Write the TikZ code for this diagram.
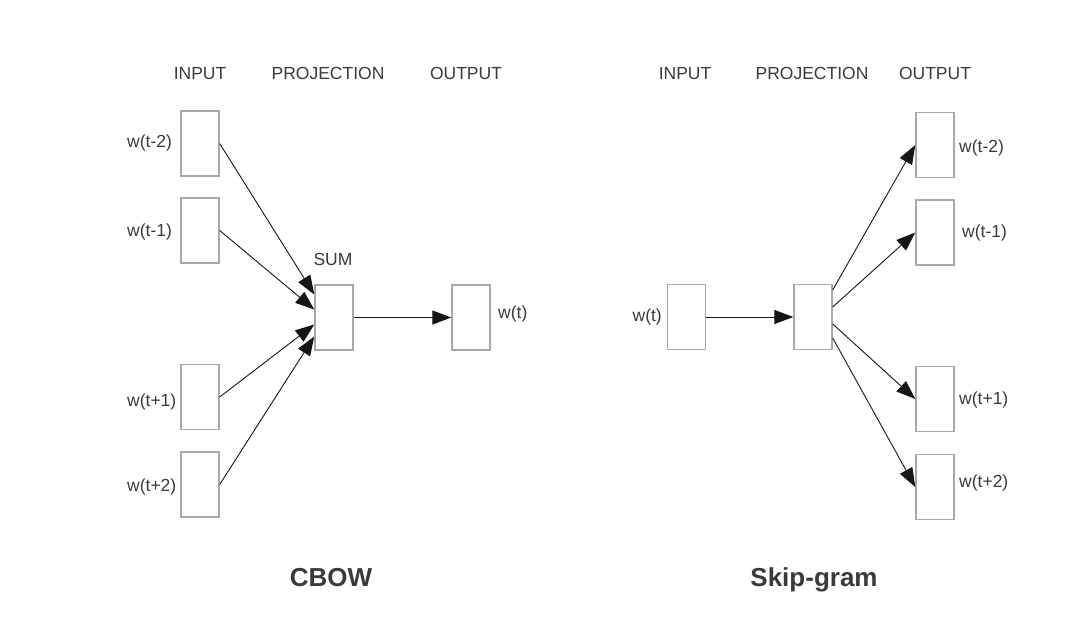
\documentclass[tikz,border=0pt]{standalone}
\usepackage{fontspec}
\setmainfont{Liberation Sans}
\usetikzlibrary{arrows.meta}
\definecolor{txt}{HTML}{3A3A3A}
\definecolor{boxc}{HTML}{A8A8A8}
\definecolor{arr}{HTML}{151515}
\tikzset{
  wbox/.style={draw=boxc, line width=1.4pt, fill=white, minimum width=38pt, minimum height=65pt, inner sep=0pt},
  lbl/.style={text=txt, font=\fontsize{17.5}{20}\selectfont, inner sep=0pt},
  hdr/.style={lbl, anchor=base},
  ttl/.style={text=txt, font=\fontsize{26}{30}\selectfont\bfseries, inner sep=0pt, anchor=base},
  conn/.style={draw=arr, line width=0.9pt, -{Triangle[length=19pt,width=14pt]}}
}
\begin{document}
\begin{tikzpicture}[x=1pt,y=-1pt]
\useasboundingbox[fill=white] (0,0) rectangle (1080,634);
% ---------- CBOW ----------
\node[hdr] (h1) at (200,79.5) {INPUT};
\node[hdr] (h2) at (328,79.5) {PROJECTION};
\node[hdr] (h3) at (466,79.5) {OUTPUT};

\node[wbox] (cm2) at (200,143.5) {};
\node[wbox] (cm1) at (200,230.5) {};
\node[wbox] (cp1) at (200,397) {};
\node[wbox] (cp2) at (200,484.5) {};
\node[wbox] (sum) at (334,317.5) {};
\node[wbox] (cout) at (471,317.5) {};

\node[lbl,anchor=west] (lm2) at (127,143) {w(t-2)};
\node[lbl,anchor=west] (lm1) at (127,232) {w(t-1)};
\node[lbl,anchor=west] (lp1) at (127,402) {w(t+1)};
\node[lbl,anchor=west] (lp2) at (127,487) {w(t+2)};
\node[lbl] (sumlbl) at (333,259) {SUM};
\node[lbl,anchor=west] (lout) at (498,314) {w(t)};

\draw[conn] (cm2.east) -- ([yshift=23pt]sum.west);
\draw[conn] (cm1.east) -- ([yshift=8pt]sum.west);
\draw[conn] (cp1.east) -- ([yshift=-7pt]sum.west);
\draw[conn] (cp2.east) -- ([yshift=-19pt]sum.west);
\draw[conn] (sum.east) -- (cout.west);

\node[ttl] (cbow) at (331,586) {CBOW};

% ---------- Skip-gram ----------
\node[hdr] (s1) at (685,80) {INPUT};
\node[hdr] (s2) at (812,80) {PROJECTION};
\node[hdr] (s3) at (935,80) {OUTPUT};

\node[wbox] (sin) at (686.5,317) {};
\node[wbox] (proj) at (813,317) {};
\node[wbox] (om2) at (935,145) {};
\node[wbox] (om1) at (935,232.5) {};
\node[wbox] (op1) at (935,399) {};
\node[wbox] (op2) at (935,487) {};

\node[lbl,anchor=east] (lin) at (662,317) {w(t)};
\node[lbl,anchor=west] (rm2) at (959,148) {w(t-2)};
\node[lbl,anchor=west] (rm1) at (962,233) {w(t-1)};
\node[lbl,anchor=west] (rp1) at (959,400) {w(t+1)};
\node[lbl,anchor=west] (rp2) at (959,483) {w(t+2)};

\draw[conn] (sin.east) -- (proj.west);
\draw[conn] ([yshift=27pt]proj.east) -- (om2.west);
\draw[conn] ([yshift=10pt]proj.east) -- (om1.west);
\draw[conn] ([yshift=-7pt]proj.east) -- (op1.west);
\draw[conn] ([yshift=-21pt]proj.east) -- (op2.west);

\node[ttl] (skip) at (814,586) {Skip-gram};
\end{tikzpicture}
\end{document}
